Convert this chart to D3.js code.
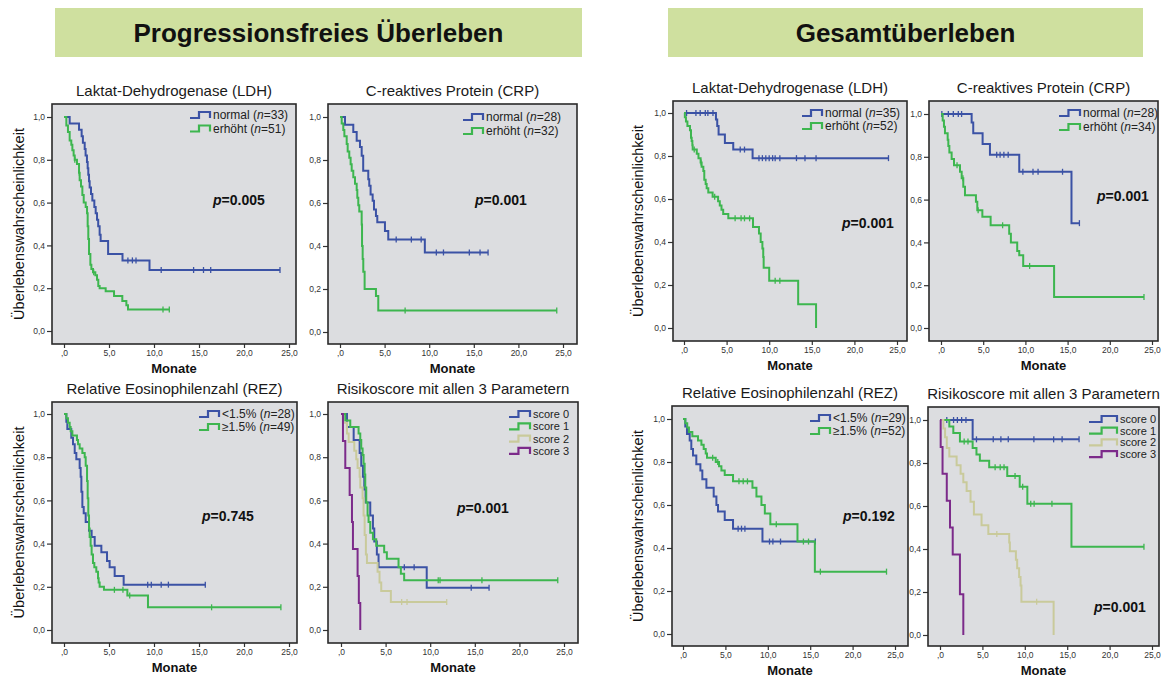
<!DOCTYPE html>
<html>
<head>
<meta charset="utf-8">
<script src="https://cdn.jsdelivr.net/npm/d3@7"></script>
<style>
  body { margin: 0; background: #fff; }
  svg { display: block; font-family: "Liberation Sans", Arial, sans-serif; }
</style>
</head>
<body>
<svg id="chart" width="1161" height="677"></svg>
<script>
// ---- headers and titles ----
const headers = ["Progressionsfreies Überleben", "Gesamtüberleben"];
const panelTitles = [
  "Laktat-Dehydrogenase (LDH)", "C-reaktives Protein (CRP)",
  "Relative Eosinophilenzahl (REZ)", "Risikoscore mit allen 3 Parametern",
  "Laktat-Dehydrogenase (LDH)", "C-reaktives Protein (CRP)",
  "Relative Eosinophilenzahl (REZ)", "Risikoscore mit allen 3 Parametern"
];
const pValues = ["0.005", "0.001", "0.745", "0.001", "0.001", "0.001", "0.192", "0.001"];
const xTickValues = [0, 5, 10, 15, 20, 25];
const xTickLabels = [",0", "5,0", "10,0", "15,0", "20,0", "25,0"];
const yTickValues = [0, 0.2, 0.4, 0.6, 0.8, 1];
const yTickLabels = ["0,0", "0,2", "0,4", "0,6", "0,8", "1,0"];

// legend entries: [name, n]
const legendLdhPfs = [["normal", "33"], ["erhöht", "51"]];
const legendCrpPfs = [["normal", "28"], ["erhöht", "32"]];
const legendRezPfs = [["<1.5%", "28"], ["≥1.5%", "49"]];
const legendLdhOs = [["normal", "35"], ["erhöht", "52"]];
const legendCrpOs = [["normal", "28"], ["erhöht", "34"]];
const legendRezOs = [["<1.5%", "29"], ["≥1.5%", "52"]];
const legendScore = [["score 0"], ["score 1"], ["score 2"], ["score 3"]];

// ---- Kaplan-Meier steps: [Monate, Überlebenswahrscheinlichkeit] ----
// Progressionsfreies Überleben
const pfsLdhNormal = [[0,1],[0.63,0.97],[1.67,0.94],[1.96,0.91],[2.1,0.88],[2.3,0.85],[2.4,0.82],[2.55,0.79],[2.63,0.76],[2.7,0.73],[2.78,0.70],[2.85,0.67],[3.0,0.64],[3.15,0.61],[3.37,0.58],[3.52,0.55],[3.67,0.52],[3.8,0.49],[3.96,0.45],[4.07,0.42],[4.9,0.36],[6.5,0.33],[9.5,0.285]];
const pfsLdhNormalCens = [7.1, 7.6, 8.0, 10.8, 14.4, 15.5, 16.3, 24.0];
const pfsLdhHigh = [[0,1],[0.26,0.96],[0.44,0.93],[0.63,0.89],[0.81,0.87],[0.93,0.845],[1.07,0.82],[1.19,0.80],[1.44,0.78],[1.67,0.74],[1.74,0.705],[1.89,0.675],[2.04,0.635],[2.19,0.60],[2.41,0.58],[2.56,0.55],[2.63,0.49],[2.70,0.43],[2.78,0.36],[2.93,0.31],[3.04,0.29],[3.22,0.275],[3.48,0.26],[3.67,0.24],[3.81,0.21],[3.96,0.20],[4.63,0.186],[5.56,0.163],[6.48,0.14],[6.93,0.12],[7.11,0.10]];
const pfsLdhHighCens = [1.2, 1.7, 3.3, 11.0, 11.7];

const pfsCrpNormal = [[0,1],[0.56,0.964],[1.49,0.93],[1.87,0.89],[2.24,0.86],[2.43,0.82],[2.6,0.75],[3.17,0.71],[3.28,0.68],[3.43,0.64],[3.66,0.61],[3.81,0.57],[4.03,0.54],[4.18,0.51],[5.04,0.47],[5.41,0.43],[9.51,0.37]];
const pfsCrpNormalCens = [6.3, 8.0, 9.1, 10.8, 11.6, 14.5, 15.7, 16.6];
const pfsCrpHigh = [[0,1],[0.19,0.97],[0.37,0.94],[0.49,0.91],[0.75,0.875],[0.86,0.84],[1.04,0.81],[1.19,0.78],[1.31,0.75],[1.49,0.72],[1.68,0.69],[1.87,0.66],[1.94,0.625],[2.05,0.59],[2.16,0.56],[2.43,0.50],[2.47,0.40],[2.54,0.34],[2.61,0.28],[2.76,0.20],[4.03,0.167],[4.29,0.10]];
const pfsCrpHighCens = [7.3, 24.3];

const pfsRezLow = [[0,1],[0.26,0.964],[0.37,0.93],[0.81,0.89],[1.0,0.86],[1.19,0.82],[1.37,0.79],[1.74,0.75],[1.85,0.71],[1.93,0.64],[2.04,0.57],[2.19,0.54],[2.41,0.50],[2.78,0.46],[3.07,0.43],[3.41,0.39],[4.15,0.36],[4.78,0.32],[5.07,0.29],[5.63,0.25],[6.63,0.21]];
const pfsRezLowCens = [9.3, 9.7, 10.8, 11.6, 15.7];
const pfsRezHigh = [[0,1],[0.26,0.98],[0.44,0.96],[0.63,0.94],[0.74,0.92],[0.93,0.90],[1.44,0.88],[1.56,0.86],[1.74,0.84],[2.04,0.82],[2.3,0.80],[2.41,0.76],[2.56,0.69],[2.63,0.61],[2.7,0.53],[2.78,0.47],[2.85,0.43],[2.96,0.39],[3.07,0.35],[3.22,0.31],[3.37,0.29],[3.59,0.27],[3.78,0.24],[3.85,0.22],[3.96,0.20],[4.44,0.186],[7.04,0.16],[9.33,0.105]];
const pfsRezHighCens = [5.6, 6.55, 7.3, 16.4, 24.1];

const pfsScore0 = [[0,1],[0.67,0.94],[1.42,0.88],[2.09,0.82],[2.27,0.76],[2.46,0.71],[2.61,0.65],[2.76,0.59],[3.28,0.53],[3.58,0.47],[3.73,0.41],[4.02,0.35],[4.21,0.29],[9.61,0.196]];
const pfsScore0Cens = [7.1, 8.2, 14.6, 16.6];
const pfsScore1 = [[0,1],[0.48,0.97],[1.04,0.94],[1.97,0.91],[2.16,0.88],[2.27,0.84],[2.42,0.81],[2.53,0.77],[2.65,0.72],[2.72,0.66],[2.83,0.59],[2.98,0.53],[3.09,0.50],[3.28,0.45],[3.58,0.42],[3.95,0.39],[4.84,0.36],[5.14,0.33],[6.45,0.29],[6.71,0.26],[7.08,0.23]];
const pfsScore1Cens = [10.9, 11.1, 15.8, 24.3];
const pfsScore2 = [[0,1],[0.22,0.96],[0.67,0.91],[0.86,0.87],[1.49,0.83],[1.71,0.79],[1.86,0.75],[2.09,0.71],[2.16,0.66],[2.42,0.61],[2.53,0.53],[2.65,0.44],[2.79,0.35],[2.91,0.31],[4.1,0.27],[4.32,0.22],[4.51,0.18],[5.59,0.13]];
const pfsScore2Cens = [6.8, 7.4, 11.85];
const pfsScore3 = [[0,1],[0.22,0.875],[0.48,0.75],[0.97,0.625],[1.23,0.5],[1.34,0.375],[1.86,0.25],[2.0,0.125],[2.16,0]];
const pfsScore3Cens = [];

// Gesamtüberleben
const osLdhNormal = [[0,1],[3.75,0.97],[3.9,0.94],[4.06,0.90],[4.8,0.86],[5.78,0.83],[8.05,0.79]];
const osLdhNormalCens = [0.3, 1.4, 1.9, 2.5, 2.8, 3.4, 6.6, 7.1, 8.8, 9.2, 9.6, 10.0, 10.4, 10.7, 11.25, 13.2, 14.2, 15.5, 24.0];
const osLdhHigh = [[0,1],[0.1,0.98],[0.23,0.96],[0.4,0.94],[0.7,0.92],[0.82,0.885],[0.9,0.87],[0.98,0.85],[1.02,0.83],[1.5,0.81],[1.7,0.79],[1.95,0.77],[2.07,0.75],[2.27,0.73],[2.38,0.69],[2.54,0.67],[2.66,0.65],[2.85,0.63],[3.36,0.61],[4.0,0.59],[4.2,0.57],[4.4,0.55],[4.6,0.53],[5.2,0.51],[8.1,0.47],[8.8,0.44],[9.0,0.40],[9.2,0.37],[9.3,0.33],[9.35,0.28],[10.0,0.22],[13.4,0.11],[15.5,0]];
const osLdhHighCens = [1.2, 2.0, 3.6, 6.0, 6.7, 7.1, 7.7, 10.7, 11.25];

const osCrpNormal = [[0,1],[3.63,0.96],[3.82,0.91],[4.93,0.86],[5.8,0.81],[9.27,0.73],[15.46,0.49]];
const osCrpNormalCens = [0.1, 0.87, 1.46, 2.05, 2.44, 6.6, 7.0, 7.45, 7.96, 9.7, 10.9, 11.5, 14.4, 16.4];
const osCrpHigh = [[0,1],[0.2,0.97],[0.35,0.94],[0.47,0.91],[0.79,0.88],[0.87,0.85],[0.99,0.82],[1.26,0.79],[1.54,0.76],[2.25,0.73],[2.45,0.70],[2.64,0.66],[2.84,0.62],[4.14,0.59],[4.3,0.55],[4.9,0.52],[5.88,0.48],[8.08,0.44],[8.28,0.40],[9.03,0.36],[9.27,0.34],[9.74,0.29],[13.4,0.145]];
const osCrpHighCens = [1.9, 2.6, 4.4, 7.3, 10.5, 24.05];

const osRezLow = [[0,1],[0.27,0.965],[0.47,0.93],[0.79,0.90],[0.98,0.86],[1.18,0.83],[1.57,0.79],[2.05,0.76],[2.28,0.72],[2.76,0.68],[3.62,0.64],[3.94,0.60],[4.13,0.57],[4.92,0.53],[5.9,0.49],[9.37,0.43]];
const osRezLowCens = [6.5, 6.9, 7.3, 10.2, 10.6, 11.5, 15.6];
const osRezHigh = [[0,1],[0.27,0.98],[0.5,0.96],[0.7,0.94],[1.1,0.92],[1.77,0.90],[2.17,0.88],[2.44,0.86],[2.68,0.84],[2.83,0.82],[3.86,0.80],[4.25,0.78],[4.53,0.76],[4.92,0.74],[5.9,0.71],[8.19,0.68],[8.66,0.64],[9.25,0.60],[9.65,0.56],[10.3,0.51],[13.5,0.43],[15.55,0.29]];
const osRezHighCens = [3.5, 4.1, 6.6, 7.1, 7.6, 11.0, 14.2, 14.8, 16.2, 24.0];

const osScore0 = [[0,1],[3.85,0.91]];
const osScore0Cens = [0.8, 1.6, 2.05, 2.55, 3.06, 4.3, 6.28, 7.18, 8.05, 11.07, 13.4, 14.4, 16.4];
const osScore1 = [[0,1],[1.1,0.97],[1.57,0.94],[2.35,0.90],[3.85,0.87],[4.3,0.84],[4.7,0.81],[5.8,0.78],[7.93,0.74],[9.4,0.69],[10.3,0.61],[15.5,0.41]];
const osScore1Cens = [2.85, 3.3, 6.5, 7.1, 7.55, 8.85, 9.75, 10.7, 11.1, 13.2, 24.05];
const osScore2 = [[0,1],[0.4,0.96],[0.6,0.92],[0.8,0.87],[1.1,0.83],[1.96,0.79],[2.43,0.75],[2.75,0.71],[3.14,0.67],[3.6,0.62],[4.0,0.56],[4.9,0.51],[5.7,0.47],[8.16,0.43],[8.24,0.39],[8.95,0.35],[9.1,0.31],[9.33,0.27],[9.5,0.23],[9.6,0.155],[13.4,0]];
const osScore2Cens = [6.7, 11.4];
const osScore3 = [[0,1],[0.08,0.875],[0.3,0.75],[0.8,0.625],[1.18,0.5],[1.5,0.375],[2.35,0.19],[2.75,0]];
const osScore3Cens = [];

const seriesColors = ["#3b52a5", "#3db64f", "#c9ca9b", "#7c2a8a"];

// ---- panel table built from the arrays above ----
const panelSeries = [
  [[pfsLdhNormal, pfsLdhNormalCens], [pfsLdhHigh, pfsLdhHighCens]],
  [[pfsCrpNormal, pfsCrpNormalCens], [pfsCrpHigh, pfsCrpHighCens]],
  [[pfsRezLow, pfsRezLowCens], [pfsRezHigh, pfsRezHighCens]],
  [[pfsScore0, pfsScore0Cens], [pfsScore1, pfsScore1Cens], [pfsScore2, pfsScore2Cens], [pfsScore3, pfsScore3Cens]],
  [[osLdhNormal, osLdhNormalCens], [osLdhHigh, osLdhHighCens]],
  [[osCrpNormal, osCrpNormalCens], [osCrpHigh, osCrpHighCens]],
  [[osRezLow, osRezLowCens], [osRezHigh, osRezHighCens]],
  [[osScore0, osScore0Cens], [osScore1, osScore1Cens], [osScore2, osScore2Cens], [osScore3, osScore3Cens]]
];
const panelLegends = [legendLdhPfs, legendCrpPfs, legendRezPfs, legendScore,
                      legendLdhOs, legendCrpOs, legendRezOs, legendScore];

// layout (pixels)
const layout = [
  { box: [52, 104, 296, 344], xr: [64, 289], yr: [331, 117], ylab: 19,  leg: [190, 115], legW: 20, legH: 13.5, legF: 12, p: [213, 205] },
  { box: [328, 104, 577, 344], xr: [340, 563], yr: [332, 117], ylab: null, leg: [463, 117], legW: 20, legH: 14, legF: 12, p: [475, 205] },
  { box: [52, 402, 297, 643], xr: [64, 289], yr: [630, 414], ylab: 19,  leg: [199, 414], legW: 20, legH: 13, legF: 12, p: [202, 521] },
  { box: [328, 402, 578, 643], xr: [341, 564], yr: [630, 414], ylab: null, leg: [509, 414], legW: 21, legH: 12.3, legF: 11, p: [457, 513] },
  { box: [673, 101, 907, 341], xr: [684, 897], yr: [328, 113], ylab: 638, leg: [802, 113], legW: 20, legH: 13, legF: 12, p: [842, 228] },
  { box: [929, 101, 1158, 341], xr: [941, 1152], yr: [328, 114], ylab: null, leg: [1059, 113], legW: 21, legH: 14, legF: 12, p: [1097, 201] },
  { box: [672, 406, 908, 646], xr: [683, 895], yr: [634, 419], ylab: 638, leg: [810, 418], legW: 20, legH: 13, legF: 12, p: [843, 521] },
  { box: [928, 407, 1159, 646], xr: [940, 1152], yr: [635, 420], ylab: null, leg: [1089, 419], legW: 28, legH: 11.7, legF: 11, p: [1094, 612] }
];

const svg = d3.select("#chart");

// headers
const headerBoxes = [[55, 8, 582, 57], [668, 8, 1143, 57]];
headers.forEach((h, i) => {
  const [x0, y0, x1, y1] = headerBoxes[i];
  svg.append("rect")
     .attr("x", x0).attr("y", y0)
     .attr("width", x1 - x0).attr("height", y1 - y0)
     .attr("fill", "#cfe09f");
  svg.append("text")
     .attr("x", (x0 + x1) / 2)
     .attr("y", (y0 + y1) / 2 + 9)
     .attr("text-anchor", "middle")
     .attr("font-size", 26)
     .attr("font-weight", "bold")
     .attr("fill", "#111")
     .text(h);
});

const survAt = (steps, t) => {
  let s = steps[0][1];
  steps.forEach(d => { if (d[0] <= t) s = d[1]; });
  return s;
};

layout.forEach((L, pi) => {
  const [bx0, by0, bx1, by1] = L.box;
  const x = d3.scaleLinear().domain([0, 25]).range(L.xr);
  const y = d3.scaleLinear().domain([0, 1]).range(L.yr);
  const g = svg.append("g");

  g.append("rect")
   .attr("x", bx0).attr("y", by0)
   .attr("width", bx1 - bx0).attr("height", by1 - by0)
   .attr("fill", "#dcdde0");

  // title
  g.append("text")
   .attr("x", (bx0 + bx1) / 2)
   .attr("y", by0 - 8)
   .attr("text-anchor", "middle")
   .attr("font-size", 15)
   .attr("fill", "#1a1a1a")
   .text(panelTitles[pi]);

  // axes
  const axisY = d3.axisLeft(y)
                  .tickValues(yTickValues)
                  .tickFormat((d, i) => yTickLabels[i])
                  .tickSize(5)
                  .tickPadding(2);
  const gy = g.append("g")
              .attr("transform", "translate(" + bx0 + ",0)")
              .call(axisY);
  const axisX = d3.axisBottom(x)
                  .tickValues(xTickValues)
                  .tickFormat((d, i) => xTickLabels[i])
                  .tickSize(4)
                  .tickPadding(1.5);
  const gx = g.append("g")
              .attr("transform", "translate(0," + by1 + ")")
              .call(axisX);
  [gx, gy].forEach(a => {
    a.select(".domain").remove();
    a.selectAll(".tick line").attr("stroke", "#333").attr("stroke-width", 1.2);
    a.selectAll(".tick text")
     .attr("font-size", 8.5)
     .attr("fill", "#333")
     .attr("font-family", "Liberation Sans, Arial, sans-serif");
  });

  g.append("text")
   .attr("x", (bx0 + bx1) / 2)
   .attr("y", by1 + 29)
   .attr("text-anchor", "middle")
   .attr("font-size", 13)
   .attr("font-weight", "bold")
   .attr("fill", "#111")
   .text("Monate");

  if (L.ylab !== null) {
    const cy = (by0 + by1) / 2;
    g.append("text")
     .attr("transform", `translate(${L.ylab + 5},${cy}) rotate(-90)`)
     .attr("text-anchor", "middle")
     .attr("font-size", 14.5)
     .attr("fill", "#111")
     .text("Überlebenswahrscheinlichkeit");
  }

  // curves
  const line = d3.line()
                 .x(d => x(d[0]))
                 .y(d => y(d[1]))
                 .curve(d3.curveStepAfter);

  panelSeries[pi].forEach((ser, si) => {
    const [steps, cens] = ser;
    const last = steps[steps.length - 1];
    const pts = steps.slice();
    if (last[1] > 0) {
      const tEnd = Math.max(last[0], d3.max(cens) || 0);
      pts.push([tEnd, last[1]]);
    }
    g.append("path")
     .attr("d", line(pts))
     .attr("fill", "none")
     .attr("stroke", seriesColors[si])
     .attr("stroke-width", 2);

    g.append("g")
     .selectAll("line")
     .data(cens)
     .enter()
     .append("line")
     .attr("x1", d => x(d)).attr("x2", d => x(d))
     .attr("y1", d => y(survAt(steps, d)) - 3)
     .attr("y2", d => y(survAt(steps, d)) + 3)
     .attr("stroke", seriesColors[si])
     .attr("stroke-width", 1.3);
  });

  // legend
  panelLegends[pi].forEach((item, li) => {
    const lx = L.leg[0];
    const ly = L.leg[1] + li * L.legH;
    const w = L.legW;
    g.append("path")
     .attr("d", `M${lx},${ly + 3}H${lx + w * 0.45}V${ly - 3}H${lx + w}V${ly + 3}`)
     .attr("fill", "none")
     .attr("stroke", seriesColors[li])
     .attr("stroke-width", 2.2);
    const t = g.append("text")
               .attr("x", lx + w + 3)
               .attr("y", ly + 4)
               .attr("font-size", L.legF)
               .attr("fill", "#222");
    if (item.length > 1) {
      t.append("tspan").text(item[0] + " (");
      t.append("tspan").attr("font-style", "italic").text("n");
      t.append("tspan").text("=" + item[1] + ")");
    } else {
      t.text(item[0]);
    }
  });

  // p value
  const pt = g.append("text")
              .attr("x", L.p[0])
              .attr("y", L.p[1])
              .attr("font-size", 14)
              .attr("font-weight", "bold")
              .attr("fill", "#111");
  pt.append("tspan").attr("font-style", "italic").text("p");
  pt.append("tspan").text("=" + pValues[pi]);

  // frame
  g.append("rect")
   .attr("x", bx0).attr("y", by0)
   .attr("width", bx1 - bx0).attr("height", by1 - by0)
   .attr("fill", "none")
   .attr("stroke", "#2a2a2a")
   .attr("stroke-width", 1.6);
});
</script>
</body>
</html>
